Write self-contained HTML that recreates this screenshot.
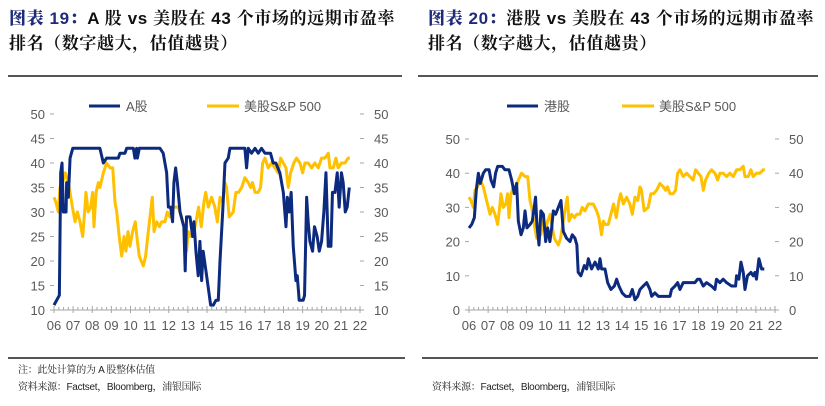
<!DOCTYPE html>
<html><head><meta charset="utf-8">
<style>
body{margin:0;width:825px;height:406px;background:#fff;position:relative;overflow:hidden;font-family:"Liberation Sans","Noto Sans CJK SC",sans-serif}
.t{position:absolute;font-weight:bold;font-size:17px;line-height:25px;color:#111;letter-spacing:0.6px;font-family:"Liberation Sans","Noto Serif CJK SC","Noto Sans CJK SC",serif}
.t b{color:#1f2a7a}
.rule{position:absolute;height:1.5px;background:#555}
.note{position:absolute;font-size:10px;color:#222;letter-spacing:-0.3px;font-family:"Liberation Sans","Noto Serif CJK SC",serif}
svg{position:absolute;left:0;top:0}
</style></head><body>
<div class="t" style="left:9px;top:6px;width:405px"><b>图表 19：</b>A 股 vs 美股在 43 个市场的远期市盈率<br>排名（数字越大，估值越贵）</div>
<div class="t" style="left:428px;top:6px;width:400px"><b>图表 20：</b>港股 vs 美股在 43 个市场的远期市盈率<br>排名（数字越大，估值越贵）</div>
<div class="rule" style="left:8px;top:75px;width:394px"></div>
<div class="rule" style="left:418px;top:75px;width:400px"></div>
<div class="rule" style="left:8px;top:357px;width:397px"></div>
<div class="rule" style="left:422px;top:357px;width:396px"></div>
<div class="note" style="left:18px;top:361px">注：此处计算的为 A 股整体估值</div>
<div class="note" style="left:18px;top:378px">资料来源：Factset，Bloomberg，浦银国际</div>
<div class="note" style="left:432px;top:378px">资料来源：Factset，Bloomberg，浦银国际</div>
<svg id="svg" width="825" height="406"></svg>
<script>
const xTicks=["06","07","08","09","10","11","12","13","14","15","16","17","18","19","20","21","22"];
const aDates=[0,.28,.35,.42,.49,.63,.66,.75,.84,.98,2.40,2.58,2.75,3.36,3.45,3.71,3.80,4.15,4.23,4.32,4.36,4.46,5.54,5.71,5.89,5.98,6.10,6.20,6.27,6.36,6.45,6.59,6.72,6.79,6.86,6.93,7.11,7.25,7.32,7.42,7.54,7.63,7.72,7.80,7.98,8.19,8.33,8.47,8.59,8.68,8.82,8.94,9.11,9.20,9.98,10.07,10.16,10.33,10.51,10.68,10.85,11.03,11.32,11.46,11.60,11.81,11.99,12.13,12.20,12.30,12.40,12.51,12.65,12.72,12.82,13.03,13.10,13.21,13.29,13.38,13.52,13.62,13.76,13.87,13.99,14.11,14.22,14.34,14.48,14.56,14.69,14.81,14.91,15.03,15.12,15.23,15.33,15.44];
const aValues=[11,13,38,40,30,30,36,33,41,43,43,40,41,41,42,42,43,43,41,43,41,43,43,42,38,31,31,28,36,39,36,30,28,27,18,29,29,25,28,22,17,24,16,22,17,11,11,12,12,20,30,40,41,43,43,39,43,42,43,42,43,42,42,40,40,38,34,27,33,30,34,23,16,17,12,12,13,33,28,24,22,27,25,22,24,30,38,23,23,34,34,38,31,38,36,30,31,35];
const spDates=[0,.10,.23,.31,.45,.59,.75,.92,1.10,1.22,1.36,1.50,1.62,1.67,1.79,1.92,2.02,2.09,2.20,2.32,2.40,2.58,2.75,2.93,3.07,3.19,3.28,3.41,3.54,3.66,3.76,3.87,3.97,4.11,4.25,4.36,4.46,4.56,4.67,4.79,4.93,5.05,5.14,5.23,5.37,5.51,5.63,5.80,5.92,6.06,6.24,6.50,6.67,6.79,6.93,7.02,7.14,7.28,7.42,7.56,7.70,7.84,7.93,8.07,8.24,8.41,8.54,8.68,8.82,8.94,9.02,9.16,9.37,9.51,9.65,9.81,9.98,10.16,10.28,10.38,10.51,10.68,10.80,10.91,11.03,11.20,11.38,11.55,11.72,11.85,11.99,12.13,12.25,12.37,12.54,12.68,12.86,13.00,13.12,13.29,13.47,13.64,13.82,13.99,14.16,14.34,14.43,14.60,14.74,14.86,15.03,15.21,15.38,15.47];
const spValues=[33,32,30,35,36,38,36,32,28,30,28,25,31,34,30,31,34,27,34,36,35,38,40,39,39,32,30,25,21,25,22,26,23,26,28,24,21,20,19,21,26,30,33,26,28,27,28,28,30,29,31,31,29,27,22,26,25,25,28,31,27,32,34,31,33,31,28,33,32,36,35,29,30,34,34,35,37,36,35,36,34,34,35,40,41,39,40,39,38,41,40,39,35,38,40,41,40,38,40,40,39,40,39,41,41,42,39,39,41,39,40,40,41,41];
const hkDates=[0,.14,.28,.38,.49,.59,.75,.87,1.05,1.15,1.29,1.39,1.50,1.74,1.88,2.09,2.23,2.37,2.49,2.58,2.72,2.84,2.93,3.03,3.19,3.31,3.41,3.48,3.55,3.66,3.76,3.89,4.01,4.11,4.23,4.32,4.41,4.53,4.67,4.81,4.93,5.10,5.28,5.40,5.54,5.64,5.71,5.85,6.03,6.15,6.24,6.41,6.59,6.76,6.85,6.93,7.11,7.25,7.42,7.60,7.72,7.84,8.01,8.19,8.41,8.54,8.68,8.82,8.94,9.11,9.29,9.46,9.55,9.72,9.90,10.51,10.59,10.77,10.91,11.03,11.20,11.81,11.95,12.07,12.25,12.42,12.68,12.86,12.94,13.12,13.29,13.47,13.73,13.94,13.99,14.11,14.22,14.34,14.43,14.56,14.74,14.86,14.95,15.03,15.16,15.30,15.44];
const hkValues=[24,25,27,35,40,37,40,41,41,38,36,40,42,42,41,41,38,34,37,26,22,24,29,24,25,26,30,33,25,19,29,28,20,24,20,24,29,28,30,32,23,21,20,22,21,19,11,10,13,12,15,12,14,12,15,12,12,8,6,7,9,7,5,4,4,6,3,4,6,7,8,6,4,5,4,4,6,7,8,6,8,8,9,9,7,8,7,6,9,8,9,8,7,7,10,9,14,11,6,10,11,10,11,9,15,12,12];
const NS="http://www.w3.org/2000/svg";
const svg=document.getElementById('svg');
function mk(tag,attrs,parent){const e=document.createElementNS(NS,tag);for(const k in attrs)e.setAttribute(k,attrs[k]);(parent||svg).appendChild(e);return e;}
function chart(o){
  const g=mk('g',{});
  
  
  const sx=d=>o.x0+(o.x1-o.x0)*d/16;
  const sy=v=>o.yb-(o.yb-o.yt)*(v-o.ymin)/(o.ymax-o.ymin);
  const col="#595959";
  const ax=mk('line',{x1:o.x0,x2:o.x1,y1:o.yb,y2:o.yb,stroke:"#a6a6a6","stroke-width":1},g);
  
  
  for(let q=0;q<=64;q++){const x=sx(q/4);mk('line',{x1:x,x2:x,y1:q%4==0?o.yb-4:o.yb-3,y2:q%4==0?o.yb+3:o.yb,stroke:"#a6a6a6","stroke-width":1},g);}
  xTicks.forEach((t,i)=>{const tx=mk('text',{x:sx(i),y:o.yb+20,"text-anchor":"middle","font-size":13,fill:col},g);tx.textContent=t;
    
    });
  for(let v=o.ymin;v<=o.ymax;v+=o.step){const y=sy(v);
    mk('line',{x1:o.x0-4,x2:o.x0,y1:y,y2:y,stroke:"#a6a6a6"},g);
    mk('line',{x1:o.x1,x2:o.x1+4,y1:y,y2:y,stroke:"#a6a6a6"},g);
    const l=mk('text',{x:o.x0-9,y:y+5,"text-anchor":"end","font-size":13,fill:col},g);l.textContent=v;
    
    
    const r=mk('text',{x:o.x1+14,y:y+5,"font-size":13,fill:col},g);r.textContent=v;
    
    }
  const line=(ds,vs,c,nm)=>{const p=mk('polyline',{points:ds.map((d,i)=>sx(d)+','+sy(vs[i])).join(' '),fill:'none',stroke:c,"stroke-width":3,"stroke-linejoin":"round"},g);
    
    };
  line(spDates,spValues,"#ffc000","sp500-line");
  line(o.d,o.v,"#0c2a7e",o.lname);
  mk('line',{x1:o.lx,x2:o.lx+31,y1:106,y2:106,stroke:"#0c2a7e","stroke-width":3},g);
  const t1=mk('text',{x:o.lx+37,y:111,"font-size":13,fill:col},g);t1.textContent=o.label;
  
  
  mk('line',{x1:o.lx2,x2:o.lx2+32,y1:106,y2:106,stroke:"#ffc000","stroke-width":3},g);
  const t2=mk('text',{x:o.lx2+37,y:111,"font-size":13,fill:col},g);t2.textContent="美股S&P 500";
  
  
}
chart({name:'chart-a-share',x0:54,x1:360,yt:114,yb:310,ymin:10,ymax:50,step:5,d:aDates,v:aValues,lname:'a-share-line',label:'A股',lx:89,lx2:207});
chart({name:'chart-hk',x0:469,x1:775,yt:139,yb:310,ymin:0,ymax:50,step:10,d:hkDates,v:hkValues,lname:'hk-line',label:'港股',lx:507,lx2:622});
</script>
</body></html>
